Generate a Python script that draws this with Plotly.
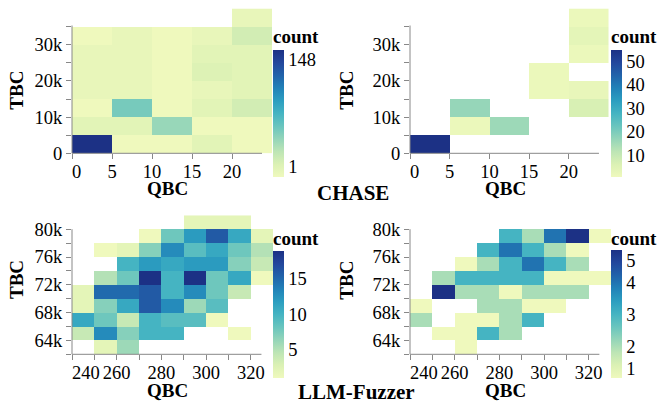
import plotly.graph_objects as go

W, H = 662, 420
N = None

# ---------------- data ----------------
chase_qbc_edges = [0, 5, 10, 15, 20, 25]
chase_tbc_edges = [0, 5000, 10000, 15000, 20000, 25000, 30000, 35000, 40000]

# rows: TBC bins bottom -> top ; cols: QBC bins 0-5 ... 20-25
chase_all_counts = [
    [148, 1, 1, 3, 1],
    [3, 3, 18, 1, 1],
    [1, 26, 1, 3, 6],
    [2, 2, 1, 2, 3],
    [2, 2, 1, 4, 3],
    [2, 2, 1, 3, 3],
    [1, 2, 1, 2, 6],
    [N, N, N, N, 2],
]
chase_unique_counts = [
    [55, N, N, N, N],
    [N, 2, 16, N, N],
    [N, 17, N, N, 7],
    [N, N, N, 2, 3],
    [N, N, N, 2, N],
    [N, N, N, N, 2],
    [N, N, N, N, 4],
    [N, N, N, N, 2],
]

fuzz_qbc_edges = [240, 250, 260, 270, 280, 290, 300, 310, 320, 330]
fuzz_tbc_edges = [62000, 64000, 66000, 68000, 70000, 72000, 74000, 76000, 78000, 80000, 82000]

fuzz_all_counts = [
    [N, 2, 6, N, N, N, N, N, N],
    [4, 13, 7, 10, 10, N, N, 1, N],
    [11, 8, 4, 10, 9, 9, 1, N, N],
    [2, 7, 11, 16, 13, 6, 9, N, N],
    [2, 15, 15, 16, 10, 13, 8, 4, N],
    [N, 5, 8, 19, 10, 19, 8, 11, 1],
    [N, N, 10, 12, 11, 12, 12, 7, 4],
    [N, 1, 2, 7, 13, 9, 11, 8, 5],
    [N, N, N, 1, 8, 12, 16, 11, 2],
    [N, N, N, N, N, 2, 2, 2, N],
]
fuzz_unique_counts = [
    [N, N, 1, N, N, N, N, N, N],
    [N, 1, 1, 3, 2, N, N, N, N],
    [2, N, 1, 1, 2, 3, N, N, N],
    [1, N, N, 2, 2, 1, 1, N, N],
    [N, 5, 2, 2, 1, 2, 2, 2, N],
    [N, 2, 3, 3, 3, 3, 1, 1, 1],
    [N, N, 1, 2, 3, 4, 3, 2, N],
    [N, N, N, 3, 4, 3, 2, 1, N],
    [N, N, N, N, 3, 2, 4, 5, 1],
    [N, N, N, N, N, N, N, N, N],
]

chase_x_ticks = [0, 5, 10, 15, 20]
chase_x_labels = ["0", "5", "10", "15", "20"]
chase_y_ticks = [0, 5000, 10000, 15000, 20000, 25000, 30000, 35000]
chase_y_labels = ["0", "", "10k", "", "20k", "", "30k", ""]
fuzz_x_ticks = [240, 250, 260, 270, 280, 290, 300, 310, 320]
fuzz_x_labels = ["240", "", "260", "", "280", "", "300", "", "320"]
fuzz_y_ticks = [62000, 64000, 66000, 68000, 70000, 72000, 74000, 76000, 78000, 80000]
fuzz_y_labels = ["", "64k", "", "68k", "", "72k", "", "76k", "", "80k"]

# ---------------- style ----------------
FONT = "Liberation Serif"
TICK_SIZE = 18.5
TITLE_SIZE = 19
AXIS_GREY = "#888888"
SCHEME = ["#eff9bd", "#dbf1b4", "#bde5b5", "#94d5b9", "#69c5be", "#45b4c2",
          "#2c9ec0", "#2182b8", "#2163aa", "#23479c", "#1c3185"]
COLORSCALE = [[i / (len(SCHEME) - 1), c] for i, c in enumerate(SCHEME)]


def px_x(p):
    return p / W


def px_y(p):
    return 1 - p / H


def flush(label, nb):
    return "\u00a0" * nb + label


fig = go.Figure()

panels = [
    dict(ax="", z=chase_all_counts, xe=chase_qbc_edges, ye=chase_tbc_edges,
         xpx=(72, 272), ypx=(8.5, 153.3), xr=(0, 25), yr=(0, 40000),
         xline=23.75, yline=35300,
         xt=chase_x_ticks, xl=[flush(chase_x_labels[0], 2)] + chase_x_labels[1:],
         yt=chase_y_ticks, yl=chase_y_labels, scale="sqrt", zr=(1, 148),
         cbx=273, cby=(49.3, 176.7), cbt=None,
         tbc=(15.7, 90), qbc=(167, 189)),
    dict(ax="2", z=chase_unique_counts, xe=chase_qbc_edges, ye=chase_tbc_edges,
         xpx=(410, 608.5), ypx=(8.5, 153.3), xr=(0, 25), yr=(0, 40000),
         xline=23.8, yline=35300,
         xt=chase_x_ticks, xl=[flush(chase_x_labels[0], 2)] + chase_x_labels[1:],
         yt=chase_y_ticks, yl=chase_y_labels, scale="linear", zr=(1, 55),
         cbx=611, cby=(49.3, 176.7), cbt=[10, 20, 30, 40, 50],
         tbc=(345.7, 90), qbc=(505, 189)),
    dict(ax="3", z=fuzz_all_counts, xe=fuzz_qbc_edges, ye=fuzz_tbc_edges,
         xpx=(72, 273.3), ypx=(215.3, 354.3), xr=(240, 330), yr=(62000, 82000),
         xline=324.7, yline=80000,
         xt=fuzz_x_ticks, xl=[flush(fuzz_x_labels[0], 6)] + fuzz_x_labels[1:],
         yt=fuzz_y_ticks, yl=fuzz_y_labels, scale="linear", zr=(1, 19),
         cbx=273, cby=(250.7, 377.7), cbt=[5, 10, 15],
         tbc=(16, 280), qbc=(167, 390.7)),
    dict(ax="4", z=fuzz_unique_counts, xe=fuzz_qbc_edges, ye=fuzz_tbc_edges,
         xpx=(410, 611), ypx=(215.3, 354.3), xr=(240, 330), yr=(62000, 82000),
         xline=324.8, yline=80000,
         xt=fuzz_x_ticks, xl=[flush(fuzz_x_labels[0], 6)] + fuzz_x_labels[1:],
         yt=fuzz_y_ticks, yl=fuzz_y_labels, scale="linear", zr=(1, 5),
         cbx=611, cby=(250.7, 378.3), cbt="flush15",
         tbc=(345.7, 280), qbc=(505, 390.7)),
]

FLUSH_PX = 10
annotations = []
shapes = []
layout_axes = {}

for p in panels:
    ax = p["ax"]
    zmin, zmax = p["zr"]
    if p["scale"] == "sqrt":
        zz = [[(v ** 0.5 if v is not None else None) for v in row] for row in p["z"]]
        cmin, cmax = zmin ** 0.5, zmax ** 0.5
    else:
        zz = p["z"]
        cmin, cmax = zmin, zmax
    bar_len = p["cby"][1] - p["cby"][0]
    d = FLUSH_PX / bar_len * (cmax - cmin)
    if p["cbt"] is None:
        tv, tt = [cmin + d, cmax - d], [str(zmin), str(zmax)]
    elif p["cbt"] == "flush15":
        tv = [cmin + d, 2, 3, 4, cmax - d]
        tt = ["1", "2", "3", "4", "5"]
    else:
        tv, tt = p["cbt"], [str(v) for v in p["cbt"]]

    fig.add_trace(go.Heatmap(
        x=p["xe"], y=p["ye"], z=zz,
        xaxis="x" + ax, yaxis="y" + ax,
        colorscale=COLORSCALE, zmin=cmin, zmax=cmax, zsmooth=False,
        hoverongaps=False,
        colorbar=dict(
            x=px_x(p["cbx"]), xanchor="left", xpad=0,
            y=px_y(p["cby"][1]), yanchor="bottom", ypad=0,
            len=bar_len, lenmode="pixels",
            thickness=11, thicknessmode="pixels",
            outlinewidth=0, ticks="", ticklen=0,
            tickvals=tv, ticktext=tt,
            tickfont=dict(family=FONT, size=TICK_SIZE, color="#000"),
        ),
    ))

    common = dict(showgrid=False, zeroline=False, showline=False,
                  ticks="outside", ticklen=5, tickwidth=1, tickcolor=AXIS_GREY,
                  tickfont=dict(family=FONT, size=TICK_SIZE, color="#000"),
                  tickmode="array", fixedrange=True, automargin=False)
    layout_axes["xaxis" + ax] = dict(
        common, domain=[px_x(p["xpx"][0]), px_x(p["xpx"][1])], range=list(p["xr"]),
        anchor="y" + ax, tickvals=p["xt"], ticktext=p["xl"], ticklabelstandoff=-4)
    layout_axes["yaxis" + ax] = dict(
        common, domain=[px_y(p["ypx"][1]), px_y(p["ypx"][0])], range=list(p["yr"]),
        anchor="x" + ax, tickvals=p["yt"], ticktext=p["yl"])

    x0, x1 = p["xr"]
    y0, y1 = p["yr"]
    shapes.append(dict(type="line", xref="x" + ax + " domain", yref="y" + ax + " domain",
                       x0=0, x1=(p["xline"] - x0) / (x1 - x0), y0=0, y1=0,
                       line=dict(color=AXIS_GREY, width=1), layer="above"))
    shapes.append(dict(type="line", xref="x" + ax + " domain", yref="y" + ax + " domain",
                       x0=0, x1=0, y0=0, y1=(p["yline"] - y0) / (y1 - y0),
                       line=dict(color=AXIS_GREY, width=1), layer="above"))

    tf = dict(family=FONT, size=TITLE_SIZE, color="#000")
    annotations.append(dict(text="<b>TBC</b>", textangle=-90, x=px_x(p["tbc"][0]),
                            y=px_y(p["tbc"][1]), xref="paper", yref="paper",
                            showarrow=False, font=tf, xanchor="center", yanchor="middle"))
    annotations.append(dict(text="<b>QBC</b>", x=px_x(p["qbc"][0]), y=px_y(p["qbc"][1]),
                            xref="paper", yref="paper", showarrow=False, font=tf,
                            xanchor="center", yanchor="middle"))
    annotations.append(dict(text="<b>count</b>", x=px_x(p["cbx"]), y=px_y(p["cby"][0] - 12.5),
                            xref="paper", yref="paper", showarrow=False, font=tf,
                            xanchor="left", yanchor="middle", xshift=-2))

gf = dict(family=FONT, size=21, color="#000")
annotations.append(dict(text="<b>CHASE</b>", x=px_x(353), y=px_y(193.3), xref="paper",
                        yref="paper", showarrow=False, font=gf))
annotations.append(dict(text="<b>LLM-Fuzzer</b>", x=px_x(356.7), y=px_y(405.7), xref="paper",
                        yref="paper", showarrow=False, font=gf))

fig.update_layout(
    width=W, height=H,
    margin=dict(l=0, r=0, t=0, b=0, pad=0, autoexpand=False),
    paper_bgcolor="white", plot_bgcolor="rgba(0,0,0,0)",
    font=dict(family=FONT, color="#000"),
    showlegend=False,
    annotations=annotations,
    shapes=shapes,
    **layout_axes,
)

fig.write_html(
    "out.html",
    config={"displayModeBar": False, "staticPlot": True},
    post_script="document.body.style.margin='0';document.body.style.padding='0';",
)
